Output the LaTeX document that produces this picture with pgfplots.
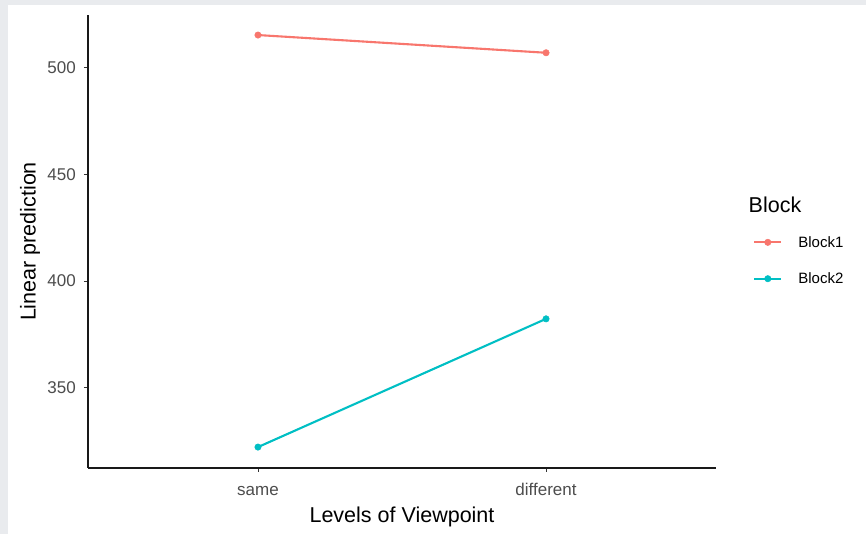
\documentclass[border=0pt]{standalone}
\usepackage{fontspec}
\setmainfont{Liberation Sans}
\usepackage{pgfplots}
\pgfplotsset{compat=1.18}

\definecolor{bordergray}{RGB}{233,235,238}
\definecolor{blockone}{HTML}{F8766D}
\definecolor{blocktwo}{HTML}{00BFC4}
\definecolor{ticktext}{HTML}{4D4D4D}
\definecolor{tickline}{HTML}{333333}

\begin{document}
\begin{tikzpicture}[x=1pt,y=1pt]
% page background with a thin grey frame at top and left
\fill[bordergray] (0,0) rectangle (866,534);
\fill[white] (8,0) rectangle (866,529);
\useasboundingbox (0,0) rectangle (866,534);

\begin{axis}[
  at={(88pt,66pt)}, anchor=south west,
  scale only axis, width=628pt, height=453pt,
  xmin=0.41, xmax=2.59, ymin=312.4, ymax=524.7,
  axis x line*=bottom, axis y line*=left,
  axis line style={-, line width=1.3pt, black!90},
  xtick={1,2}, xticklabels={same,different},
  ytick={350,400,450,500},
  tick align=outside, major tick length=4pt,
  tick style={tickline, line width=0.9pt},
  ticklabel style={text=ticktext, font=\fontsize{17}{20}\selectfont},
  /pgf/number format/assume math mode=true,
  xticklabel style={anchor=base, yshift=-24pt},
  yticklabel style={inner sep=0pt, xshift=-8pt},
  xlabel={Levels of Viewpoint},
  ylabel={Linear prediction},
  every axis x label/.style={at={(axis description cs:0.5,-0.107)}, anchor=center,
    font=\fontsize{21.5}{25}\selectfont},
  every axis y label/.style={at={(axis description cs:-0.0924,0.5)}, rotate=90, anchor=center,
    font=\fontsize{21.5}{25}\selectfont},
  legend cell align=left,
  legend image code/.code={
    \draw[mark repeat=2, mark phase=2, #1]
      plot coordinates {(0pt,0pt) (13.5pt,0pt) (27pt,0pt)};
  },
  legend style={
    at={(axis description cs:1.059,0.458)}, anchor=west,
    draw=none, fill=none, inner sep=0pt,
    font=\fontsize{15}{18}\selectfont,
    nodes={inner sep=0pt},
    row sep=24pt,
    /tikz/every odd column/.append style={column sep=16pt},
  },
]
\addplot[blockone, line width=2.1pt, mark=*, mark size=3.2pt, mark options={line width=0.5pt}]
  coordinates {(1,515.3) (2,507.0)};
\addlegendentry{Block1}
\addplot[blocktwo, line width=2.1pt, mark=*, mark size=3.2pt, mark options={line width=0.5pt}]
  coordinates {(1,322.2) (2,382.3)};
\addlegendentry{Block2}
\end{axis}

% legend title
\node[anchor=base west, inner sep=0pt, font=\fontsize{21.5}{25}\selectfont]
  at (748.5,321) {Block};
\end{tikzpicture}
\end{document}
